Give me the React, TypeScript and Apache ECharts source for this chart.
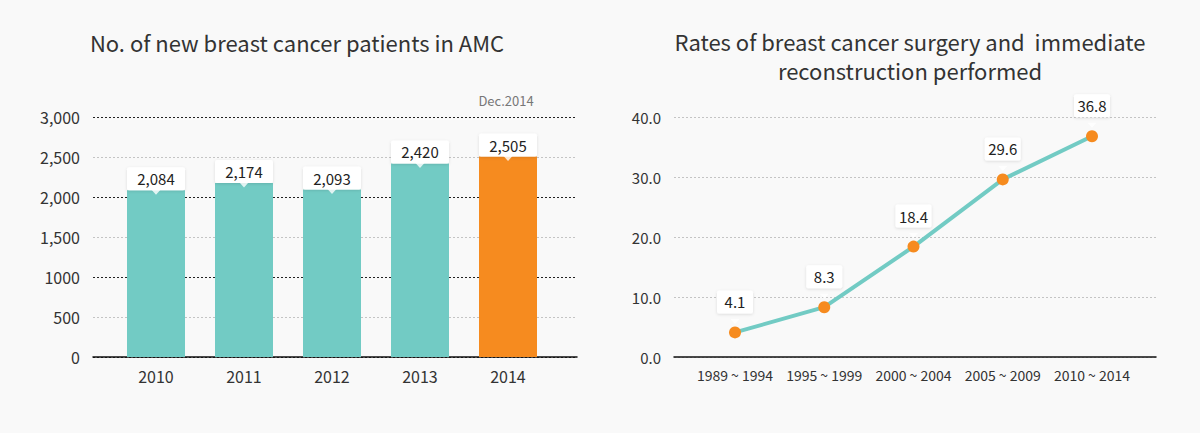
import React, { useEffect, useRef } from 'react';
import * as echarts from 'echarts';

const FONT = '"Noto Sans CJK KR", "Noto Sans", sans-serif';
const TEAL = '#72cbc4';
const ORANGE = '#f68b1f';

// left chart
const years = ['2010', '2011', '2012', '2013', '2014'];
const patients = [2084, 2174, 2093, 2420, 2505];
const patientTicks = ['0', '500', '1000', '1,500', '2,000', '2,500', '3,000'];

// right chart
const periods = ['1989 ~ 1994', '1995 ~ 1999', '2000 ~ 2004', '2005 ~ 2009', '2010 ~ 2014'];
const rates = [4.1, 8.3, 18.4, 29.6, 36.8];
const rateTicks = ['0.0', '10.0', '20.0', '30.0', '40.0'];

const boxLabel = (width: number) => ({
  show: true,
  position: 'top' as const,
  width,
  height: 23,
  lineHeight: 23,
  align: 'center' as const,
  backgroundColor: '#fff',
  borderRadius: 2,
  shadowBlur: 3,
  shadowOffsetY: 1,
  shadowColor: 'rgba(0,0,0,0.12)',
  color: '#222',
  fontSize: 15,
  fontFamily: FONT
});

const titleText = (text: string, x: number, y: number) => ({
  type: 'text' as const,
  x,
  y,
  style: {
    text,
    font: `22px ${FONT}`,
    fill: '#333',
    textAlign: 'center',
    textVerticalAlign: 'middle'
  }
});

const App: React.FC = () => {
  const chartRef = useRef<HTMLDivElement>(null);

  useEffect(() => {
    if (!chartRef.current) return;
    const chart = echarts.init(chartRef.current, null, { renderer: 'svg' });

    const hiddenY = (gridIndex: number, max: number) => ({
      type: 'value' as const,
      gridIndex,
      min: 0,
      max,
      show: false
    });

    const frameX = (gridIndex: number) => ({
      type: 'value' as const,
      gridIndex,
      min: 0,
      max: 1,
      axisLine: { show: true, onZero: false, lineStyle: { color: '#111', width: 1.5 } },
      axisTick: { show: false },
      axisLabel: { show: false },
      splitLine: { show: false }
    });

    chart.setOption({
      animation: false,
      backgroundColor: 'transparent',
      textStyle: { fontFamily: FONT },
      grid: [
        { left: 93, right: 623, top: 117, height: 240 },
        { left: 112, right: 648, top: 117, height: 240 },
        { left: 674, right: 44, top: 117, height: 240 },
        { left: 735, right: 108, top: 117, height: 240 }
      ],
      xAxis: [
        frameX(0),
        {
          type: 'category',
          gridIndex: 1,
          data: years,
          axisLine: { show: false },
          axisTick: { show: false },
          axisLabel: { color: '#333', fontSize: 16, margin: 11, fontFamily: FONT }
        },
        frameX(2),
        {
          type: 'category',
          gridIndex: 3,
          data: periods,
          boundaryGap: false,
          axisLine: { show: false },
          axisTick: { show: false },
          axisLabel: { color: '#333', fontSize: 14, margin: 11, interval: 0, fontFamily: FONT }
        }
      ],
      yAxis: [
        {
          type: 'value',
          gridIndex: 0,
          min: 0,
          max: 3000,
          interval: 500,
          axisLine: { show: false },
          axisTick: { show: false },
          axisLabel: {
            color: '#333',
            fontSize: 16,
            margin: 13,
            fontFamily: FONT,
            formatter: (v: number) => patientTicks[Math.round(v / 500)]
          },
          splitLine: {
            lineStyle: { color: ['#222', '#c4c4c4'], type: [2, 2], width: 1 }
          }
        },
        hiddenY(1, 3000),
        {
          type: 'value',
          gridIndex: 2,
          min: 0,
          max: 40,
          interval: 10,
          axisLine: { show: false },
          axisTick: { show: false },
          axisLabel: {
            color: '#333',
            fontSize: 15,
            margin: 13,
            fontFamily: FONT,
            formatter: (v: number) => rateTicks[Math.round(v / 10)]
          },
          splitLine: { lineStyle: { color: '#c4c4c4', type: [2, 2], width: 1 } }
        },
        hiddenY(3, 40)
      ],
      series: [
        {
          type: 'bar',
          xAxisIndex: 1,
          yAxisIndex: 1,
          barWidth: 58,
          data: patients.map((v, i) => ({
            value: v,
            itemStyle: { color: i === patients.length - 1 ? ORANGE : TEAL }
          })),
          label: {
            ...boxLabel(58),
            distance: 0,
            formatter: (p: any) => Number(p.value).toLocaleString('en-US')
          }
        },
        {
          type: 'scatter',
          xAxisIndex: 1,
          yAxisIndex: 1,
          symbol: 'triangle',
          symbolRotate: 180,
          symbolSize: [9, 5],
          symbolOffset: [0, 2],
          itemStyle: { color: '#fff' },
          silent: true,
          z: 5,
          data: patients
        },
        {
          type: 'line',
          xAxisIndex: 3,
          yAxisIndex: 3,
          data: rates,
          symbol: 'circle',
          symbolSize: 12,
          showAllSymbol: true,
          lineStyle: { color: TEAL, width: 4 },
          itemStyle: { color: ORANGE },
          label: {
            ...boxLabel(36),
            distance: 13,
            formatter: (p: any) => Number(p.value).toFixed(1)
          },
          z: 3
        },
        {
          type: 'scatter',
          xAxisIndex: 3,
          yAxisIndex: 3,
          symbol: 'triangle',
          symbolRotate: 180,
          symbolSize: [9, 5],
          symbolOffset: [0, -11],
          itemStyle: { color: '#fff' },
          silent: true,
          z: 5,
          data: rates
        }
      ],
      graphic: [
        titleText('No. of new breast cancer patients in AMC', 297, 42),
        titleText('Rates of breast cancer surgery and  immediate', 910, 41),
        titleText('reconstruction performed', 910, 70),
        {
          type: 'text',
          x: 506,
          y: 100,
          style: {
            text: 'Dec.2014',
            font: `13px ${FONT}`,
            fill: '#777',
            textAlign: 'center',
            textVerticalAlign: 'middle'
          }
        }
      ]
    });

    return () => {
      chart.dispose();
    };
  }, []);

  return (
    <div
      ref={chartRef}
      style={{
        position: 'fixed',
        left: 0,
        top: 0,
        width: 1200,
        height: 433,
        background: '#f9f9f9'
      }}
    />
  );
};

export default App;
